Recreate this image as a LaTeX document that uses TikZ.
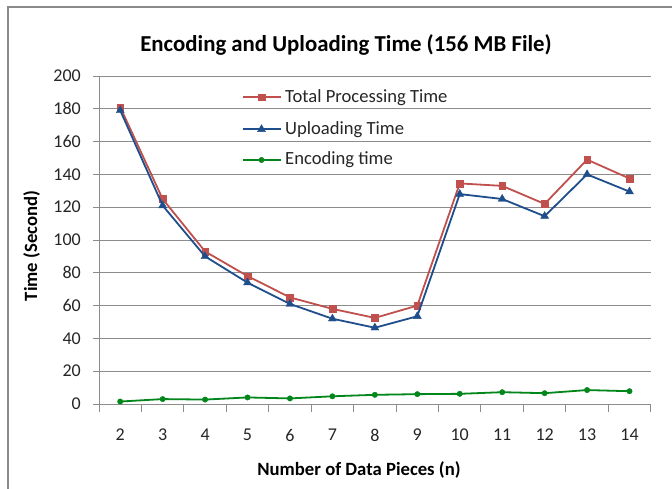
\documentclass[tikz,border=0pt]{standalone}
\usepackage{fontspec}
\setmainfont{Carlito}
\usetikzlibrary{plotmarks}

\definecolor{totred}{HTML}{C0504D}
\definecolor{upblue}{HTML}{1F4E8C}
\definecolor{encgreen}{HTML}{00861A}
\definecolor{gridgray}{HTML}{8C8C8C}
\definecolor{framegray}{HTML}{8A8A8A}
\definecolor{labelgray}{HTML}{262626}

\tikzset{
  gridline/.style={gridgray, line width=0.9pt},
  axisline/.style={gridgray, line width=1pt},
  ticklabel/.style={font=\fontsize{18}{20}\selectfont, text=labelgray, inner sep=0pt},
  axistitle/.style={font=\bfseries\fontsize{18.7}{21}\selectfont, inner sep=0pt},
  legendtext/.style={font=\fontsize{18.6}{21}\selectfont, text=labelgray, inner sep=0pt, anchor=west},
  totseries/.style={totred, line width=1.8pt, mark=square*, mark size=3.3pt,
    mark options={solid, fill=totred, draw=totred, line width=0.4pt}},
  upseries/.style={upblue, line width=1.8pt, mark=triangle*, mark size=4.6pt,
    mark options={solid, fill=upblue, draw=upblue, line width=0.4pt}},
  encseries/.style={encgreen, line width=1.8pt, mark=*, mark size=2.7pt,
    mark options={solid, fill=encgreen, draw=encgreen, line width=0.4pt}},
}

\begin{document}
\begin{tikzpicture}[x=1pt, y=-1pt]
  \useasboundingbox (0,0) rectangle (672,489);
  \fill[white] (0,0) rectangle (672,489);

  % chart frame (open on the right and at the bottom)
  \draw[framegray, line width=2pt] (7.5,489) -- (7.5,7.5) -- (672,7.5);

  % title
  \node[font=\bfseries\fontsize{22.8}{26}\selectfont, inner sep=0pt] (title) at (346,45)
    {Encoding and Uploading Time (156 MB File)};

  % horizontal gridlines and y tick labels
  \foreach \v in {20,40,...,200} {
    \draw[gridline] (92.7,{404-1.64*\v}) -- (650.7,{404-1.64*\v});
  }
  \foreach \v in {0,20,...,200} {
    \node[ticklabel, anchor=east] (ylab\v) at (81,{404-1.64*\v}) {\v};
  }

  % axes
  \draw[axisline] (99,75.7) -- (99,404);
  \draw[axisline] (92.7,404) -- (650.7,404);
  \foreach \k in {0,...,13} {
    \draw[axisline] ({99+42.44*\k},404) -- ({99+42.44*\k},411.5);
  }
  \foreach \n in {2,...,14} {
    \node[ticklabel] (xlab\n) at ({99+42.44*(\n-1.5)},435) {\n};
  }

  % axis titles
  \node[axistitle] (xtitle) at (359,470) {Number of Data Pieces (n)};
  \node[axistitle, rotate=90] (ytitle) at (31.5,246) {Time (Second)};

  % data series: x = number of pieces, y = seconds
  \begin{scope}[shift={(35.34,404)}, x=42.44pt, y=1.64pt]
    \draw[encseries] plot coordinates {(2,1.5) (3,3) (4,2.7) (5,4) (6,3.4) (7,4.7)
      (8,5.6) (9,6) (10,6.2) (11,7.2) (12,6.6) (13,8.5) (14,7.8)};
    \draw[totseries] plot coordinates {(2,181) (3,125) (4,93) (5,78) (6,65) (7,58)
      (8,52.5) (9,60) (10,134.5) (11,133) (12,122) (13,149) (14,137.5)};
    \draw[upseries] plot coordinates {(2,179) (3,121) (4,90) (5,74) (6,61) (7,52)
      (8,46.5) (9,53.5) (10,128) (11,125) (12,114.5) (13,140) (14,129.5)};
  \end{scope}

  % legend
  \draw[totseries, mark indices={2}] plot coordinates {(243,97.3) (261.5,97.3) (280.5,97.3)};
  \node[legendtext] (legtot) at (285,97.3) {Total Processing Time};
  \draw[upseries, mark indices={2}] plot coordinates {(243,129.3) (261.5,129.3) (280.5,129.3)};
  \node[legendtext] (legup) at (285,129.3) {Uploading Time};
  \draw[encseries, mark indices={2}] plot coordinates {(243,160) (261.5,160) (280.5,160)};
  \node[legendtext] (legenc) at (285,160) {Encoding time};
\end{tikzpicture}
\end{document}
